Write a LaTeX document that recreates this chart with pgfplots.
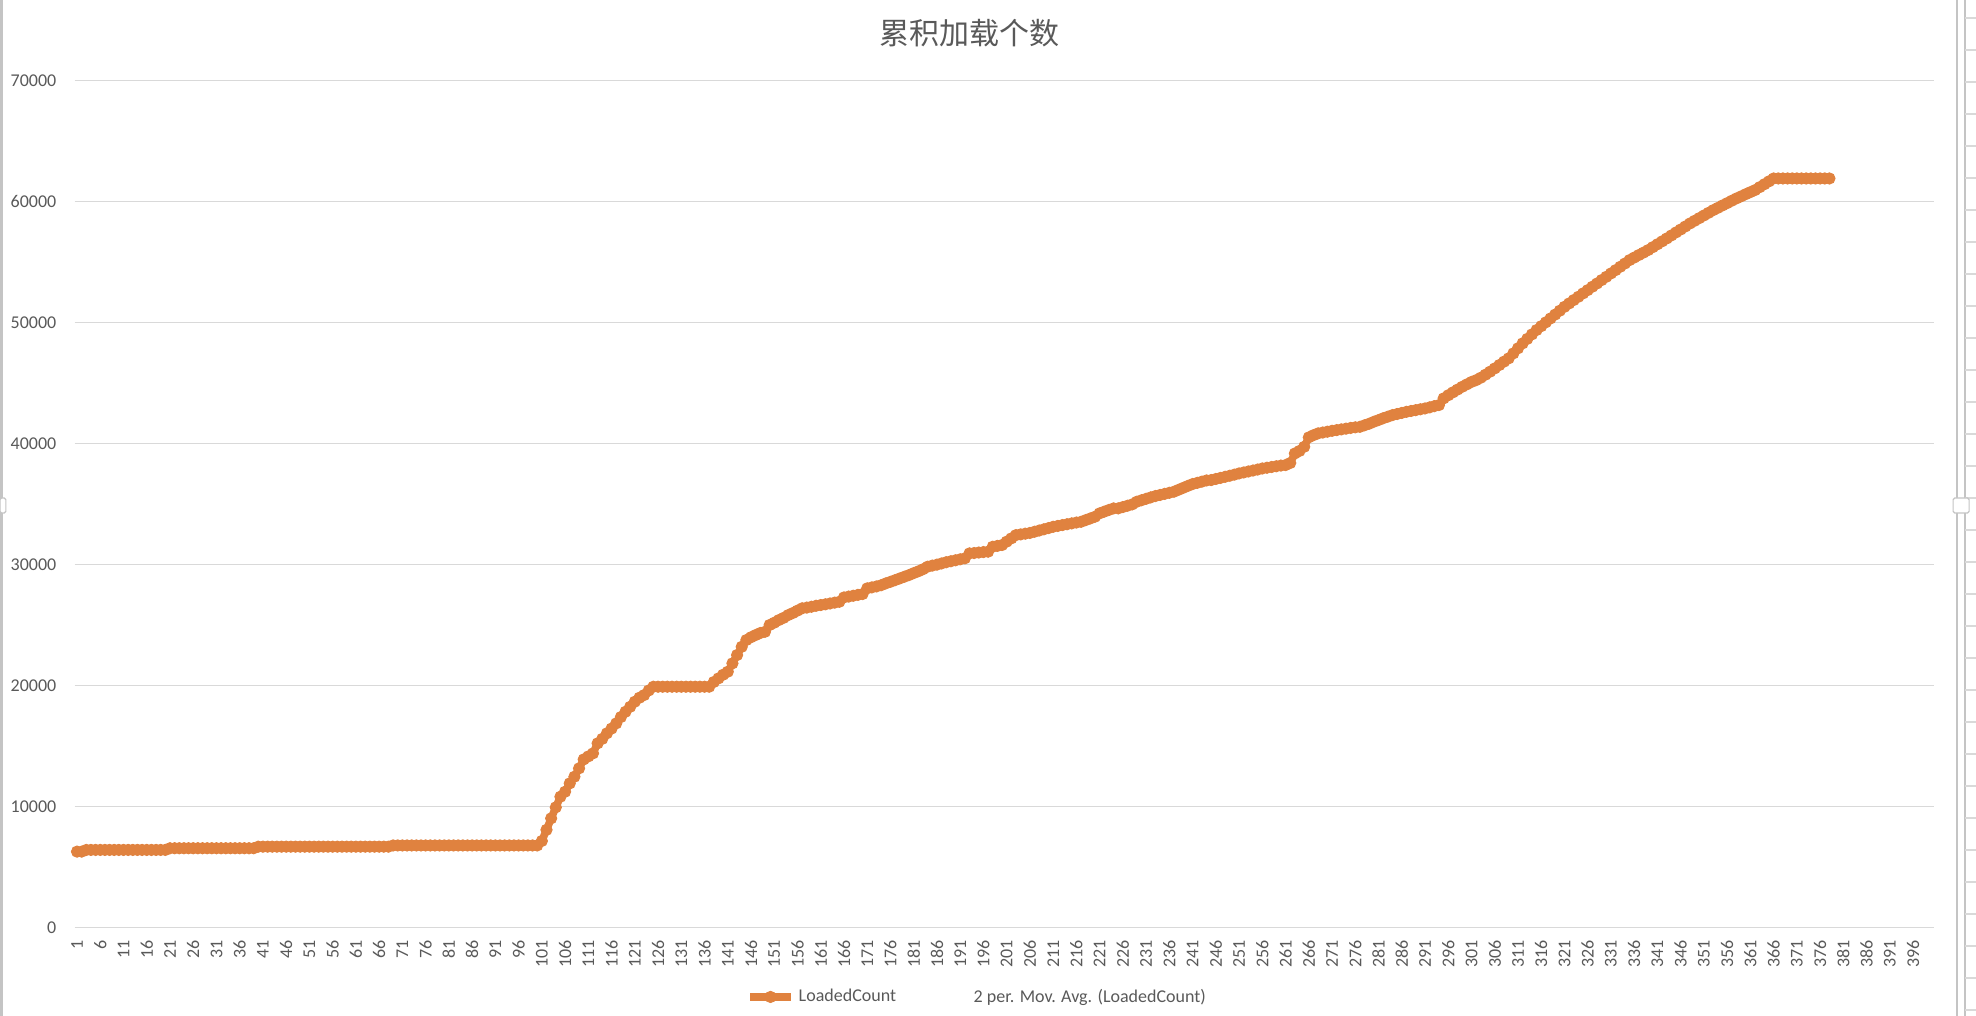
\documentclass[border=0pt]{standalone}
\usepackage{fontspec}
\setmainfont{Carlito}
\newfontfamily\cjk{Noto Sans CJK SC}
\usepackage{pgfplots}
\pgfplotsset{compat=1.18}

\definecolor{lc}{HTML}{E0823F}
\definecolor{txt}{HTML}{595959}
\definecolor{grd}{HTML}{D9D9D9}
\definecolor{frm}{HTML}{C4C4C4}

\begin{document}
\begin{tikzpicture}
\useasboundingbox (-37.35pt,-44.2pt) rectangle (950.65pt,463.8pt);
% window frame bits around the chart (page px -> pt)
\draw[frm, line width=1.5pt] (-36.6pt,-44.2pt) -- (-36.6pt,463.8pt);
\draw[frm, line width=1pt] (941.15pt,-44.2pt) -- (941.15pt,463.8pt);
\draw[frm, line width=1pt] (945.15pt,-44.2pt) -- (945.15pt,463.8pt);
\foreach \k in {0,...,31} {
  \draw[grd, line width=0.8pt] (945.15pt,{454.7pt-\k*16pt}) -- (950.65pt,{454.7pt-\k*16pt});
}
\draw[frm, fill=white, line width=0.6pt, rounded corners=0.8pt] (-37.35pt,207.3pt) rectangle (-34.4pt,214.8pt);
\draw[frm, fill=white, line width=0.6pt, rounded corners=0.8pt] (939.2pt,207.3pt) rectangle (947.2pt,214.8pt);

\begin{axis}[
  scale only axis,
  width=929.65pt, height=423.45pt,
  xmin=0.5, xmax=400.5,
  ymin=0, ymax=70000,
  xtick={1,6,...,396},
  ytick={0,10000,...,70000},
  scaled y ticks=false,
  axis line style={draw=none},
  tick style={draw=none},
  ymajorgrids,
  major grid style={grd, line width=0.8pt},
  tick label style={font=\fontsize{9}{10}\selectfont, text=txt},
  /pgf/number format/assume math mode=true,
  yticklabel style={/pgf/number format/fixed, /pgf/number format/1000 sep={},
    anchor=east, inner sep=0pt, xshift=-9pt},
  xticklabel style={yshift=-6pt, rotate=90, anchor=east, inner sep=0pt},
  title={\cjk 累积加载个数},
  title style={at={(0.4815,1)}, anchor=center, yshift=18pt,
    font=\fontsize{15}{17}\selectfont, text=txt},
  legend columns=2,
  legend style={at={(0.4859,-0.0819)}, anchor=center, draw=none, fill=none,
    font=\fontsize{9}{10}\selectfont, text=txt,
    /tikz/every even column/.append style={column sep=14pt},
    inner sep=0pt},
  legend image code/.code={%
    \draw[mark repeat=2, mark phase=2] plot coordinates {(0pt,0pt) (10.2pt,0pt) (20.4pt,0pt)};},
]
\addplot[lc, line width=3.8pt, mark=*, mark size=2.8pt, mark options={solid, line width=0.5pt}]
coordinates {
(1,6280) (2,6280) (3,6420) (4,6420) (5,6420) (6,6420) (7,6420) (8,6420) (9,6420) (10,6420)
(11,6420) (12,6420) (13,6420) (14,6420) (15,6420) (16,6420) (17,6420) (18,6420) (19,6420) (20,6420)
(21,6560) (22,6560) (23,6560) (24,6560) (25,6560) (26,6560) (27,6560) (28,6560) (29,6560) (30,6560)
(31,6560) (32,6560) (33,6560) (34,6560) (35,6560) (36,6560) (37,6560) (38,6560) (39,6560) (40,6690)
(41,6690) (42,6690) (43,6690) (44,6690) (45,6690) (46,6690) (47,6690) (48,6690) (49,6690) (50,6690)
(51,6690) (52,6690) (53,6690) (54,6690) (55,6690) (56,6690) (57,6690) (58,6690) (59,6690) (60,6690)
(61,6690) (62,6690) (63,6690) (64,6690) (65,6690) (66,6690) (67,6690) (68,6690) (69,6790) (70,6790)
(71,6790) (72,6790) (73,6790) (74,6790) (75,6790) (76,6790) (77,6790) (78,6790) (79,6790) (80,6790)
(81,6790) (82,6790) (83,6790) (84,6790) (85,6790) (86,6790) (87,6790) (88,6790) (89,6790) (90,6790)
(91,6790) (92,6790) (93,6790) (94,6790) (95,6790) (96,6790) (97,6790) (98,6790) (99,6790) (100,6790)
(101,7160) (102,8080) (103,9030) (104,9940) (105,10820) (106,11230) (107,11920) (108,12470) (109,13160) (110,13900)
(111,14150) (112,14400) (113,15230) (114,15600) (115,16060) (116,16450) (117,16880) (118,17400) (119,17840) (120,18250)
(121,18670) (122,19000) (123,19220) (124,19600) (125,19910) (126,19910) (127,19910) (128,19910) (129,19910) (130,19910)
(131,19910) (132,19910) (133,19910) (134,19910) (135,19910) (136,19910) (137,19910) (138,20300) (139,20600) (140,20900)
(141,21150) (142,21840) (143,22530) (144,23210) (145,23770) (146,24000) (147,24180) (148,24350) (149,24450) (150,25010)
(151,25200) (152,25420) (153,25600) (154,25830) (155,26000) (156,26200) (157,26390) (158,26450) (159,26520) (160,26600)
(161,26660) (162,26720) (163,26790) (164,26860) (165,26930) (166,27290) (167,27360) (168,27430) (169,27500) (170,27570)
(171,28040) (172,28120) (173,28200) (174,28300) (175,28450) (176,28580) (177,28720) (178,28860) (179,29000) (180,29140)
(181,29300) (182,29450) (183,29620) (184,29830) (185,29920) (186,30000) (187,30100) (188,30200) (189,30280) (190,30360)
(191,30440) (192,30520) (193,30930) (194,30960) (195,31000) (196,31040) (197,31070) (198,31480) (199,31550) (200,31620)
(201,31900) (202,32170) (203,32440) (204,32500) (205,32560) (206,32620) (207,32720) (208,32820) (209,32920) (210,33020)
(211,33130) (212,33200) (213,33270) (214,33340) (215,33410) (216,33480) (217,33540) (218,33680) (219,33820) (220,33960)
(221,34240) (222,34380) (223,34520) (224,34650) (225,34650) (226,34760) (227,34870) (228,34980) (229,35200) (230,35320)
(231,35440) (232,35560) (233,35670) (234,35760) (235,35850) (236,35940) (237,36030) (238,36190) (239,36350) (240,36510)
(241,36660) (242,36760) (243,36860) (244,36960) (245,36990) (246,37080) (247,37170) (248,37260) (249,37350) (250,37440)
(251,37540) (252,37620) (253,37700) (254,37780) (255,37860) (256,37950) (257,38010) (258,38070) (259,38130) (260,38190)
(261,38230) (262,38400) (263,39190) (264,39400) (265,39740) (266,40520) (267,40700) (268,40850) (269,40920) (270,40990)
(271,41060) (272,41120) (273,41180) (274,41240) (275,41300) (276,41350) (277,41390) (278,41520) (279,41650) (280,41810)
(281,41950) (282,42100) (283,42230) (284,42360) (285,42450) (286,42540) (287,42630) (288,42700) (289,42770) (290,42840)
(291,42910) (292,43000) (293,43100) (294,43190) (295,43740) (296,44000) (297,44240) (298,44470) (299,44700) (300,44900)
(301,45100) (302,45250) (303,45450) (304,45700) (305,45950) (306,46220) (307,46500) (308,46780) (309,47050) (310,47460)
(311,47880) (312,48290) (313,48660) (314,49030) (315,49390) (316,49710) (317,50030) (318,50350) (319,50670) (320,50990)
(321,51310) (322,51590) (323,51870) (324,52140) (325,52420) (326,52690) (327,52970) (328,53240) (329,53520) (330,53790)
(331,54070) (332,54340) (333,54620) (334,54890) (335,55170) (336,55380) (337,55590) (338,55790) (339,56000) (340,56240)
(341,56480) (342,56720) (343,56960) (344,57210) (345,57460) (346,57700) (347,57950) (348,58200) (349,58420) (350,58640)
(351,58860) (352,59080) (353,59300) (354,59490) (355,59690) (356,59880) (357,60080) (358,60270) (359,60440) (360,60620)
(361,60790) (362,60960) (363,61200) (364,61440) (365,61680) (366,61920) (367,61920) (368,61920) (369,61920) (370,61920)
(371,61920) (372,61920) (373,61920) (374,61920) (375,61920) (376,61920) (377,61920) (378,61920)
};
\addlegendentry{LoadedCount}
\addlegendimage{draw=white}
\addlegendentry{2 per. Mov. Avg. (LoadedCount)}
\end{axis}
\end{tikzpicture}
\end{document}
